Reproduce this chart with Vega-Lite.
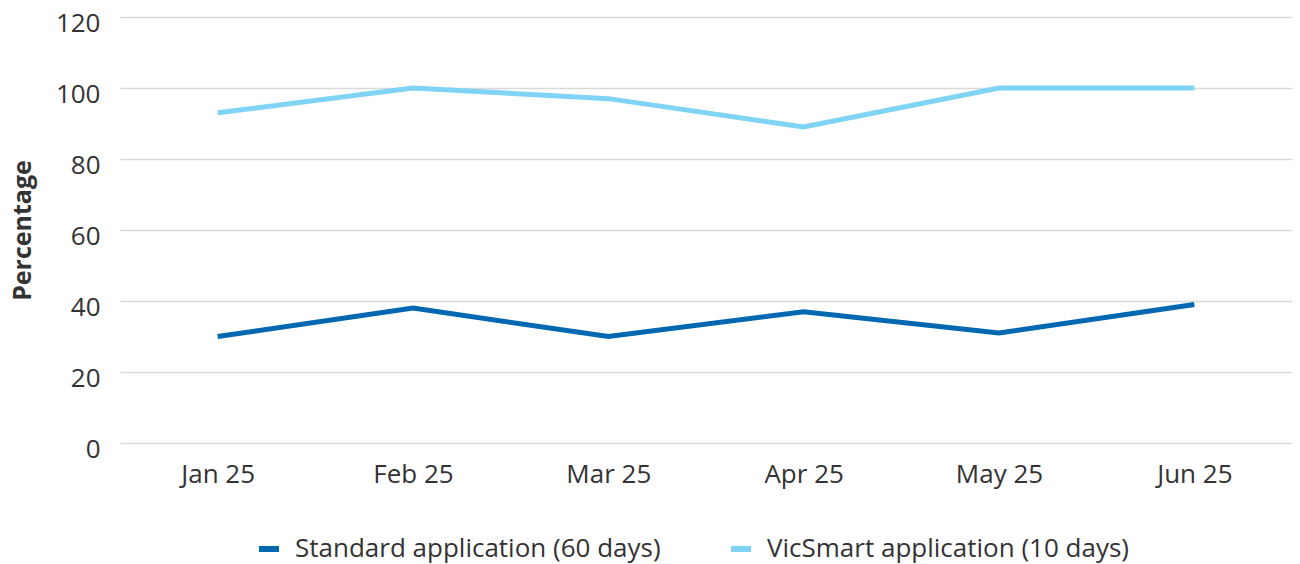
{
  "$schema": "https://vega.github.io/schema/vega-lite/v6.json",
  "autosize": "none",
  "width": 1172,
  "height": 426,
  "padding": {"left": 120, "top": 17, "right": 8, "bottom": 121},
  "background": "white",
  "config": {
    "view": {"stroke": null},
    "font": "Open Sans",
    "axis": {"labelFont": "Open Sans", "titleFont": "Open Sans", "labelColor": "#333333", "titleColor": "#333333"},
    "legend": {"labelFont": "Open Sans"}
  },
  "data": {
    "values": [
      {"month": "Jan 25", "series": "Standard application (60 days)", "value": 30},
      {"month": "Feb 25", "series": "Standard application (60 days)", "value": 38},
      {"month": "Mar 25", "series": "Standard application (60 days)", "value": 30},
      {"month": "Apr 25", "series": "Standard application (60 days)", "value": 37},
      {"month": "May 25", "series": "Standard application (60 days)", "value": 31},
      {"month": "Jun 25", "series": "Standard application (60 days)", "value": 39},
      {"month": "Jan 25", "series": "VicSmart application (10 days)", "value": 93},
      {"month": "Feb 25", "series": "VicSmart application (10 days)", "value": 100},
      {"month": "Mar 25", "series": "VicSmart application (10 days)", "value": 97},
      {"month": "Apr 25", "series": "VicSmart application (10 days)", "value": 89},
      {"month": "May 25", "series": "VicSmart application (10 days)", "value": 100},
      {"month": "Jun 25", "series": "VicSmart application (10 days)", "value": 100}
    ]
  },
  "mark": {"type": "line", "strokeWidth": 5, "strokeCap": "butt", "strokeJoin": "miter"},
  "encoding": {
    "x": {
      "field": "month", "type": "ordinal", "sort": null,
      "scale": {"type": "point", "padding": 0.5},
      "axis": {"title": null, "labelAngle": 0, "labelFontSize": 26, "labelPadding": 18, "ticks": false, "domain": false, "grid": false}
    },
    "y": {
      "field": "value", "type": "quantitative",
      "scale": {"domain": [0, 120], "nice": false},
      "axis": {
        "title": "Percentage", "titleFontSize": 25, "titleFontWeight": "bold", "titlePadding": 20,
        "values": [0, 20, 40, 60, 80, 100, 120],
        "labelFontSize": 26, "labelPadding": 20, "labelOffset": 6, "ticks": false, "domain": false,
        "gridColor": "#d9d9d9", "gridWidth": 1.5
      }
    },
    "color": {
      "field": "series", "type": "nominal",
      "scale": {"domain": ["Standard application (60 days)", "VicSmart application (10 days)"], "range": ["#0067B1", "#7FD3F5"]},
      "legend": {
        "title": null, "orient": "none", "direction": "horizontal", "legendX": 136, "legendY": 519, "padding": 0,
        "symbolType": "stroke", "symbolStrokeWidth": 6, "symbolSize": 400, "labelLimit": 600,
        "labelFontSize": 26, "labelColor": "#333333", "columnPadding": 58, "labelOffset": 13
      }
    }
  }
}
